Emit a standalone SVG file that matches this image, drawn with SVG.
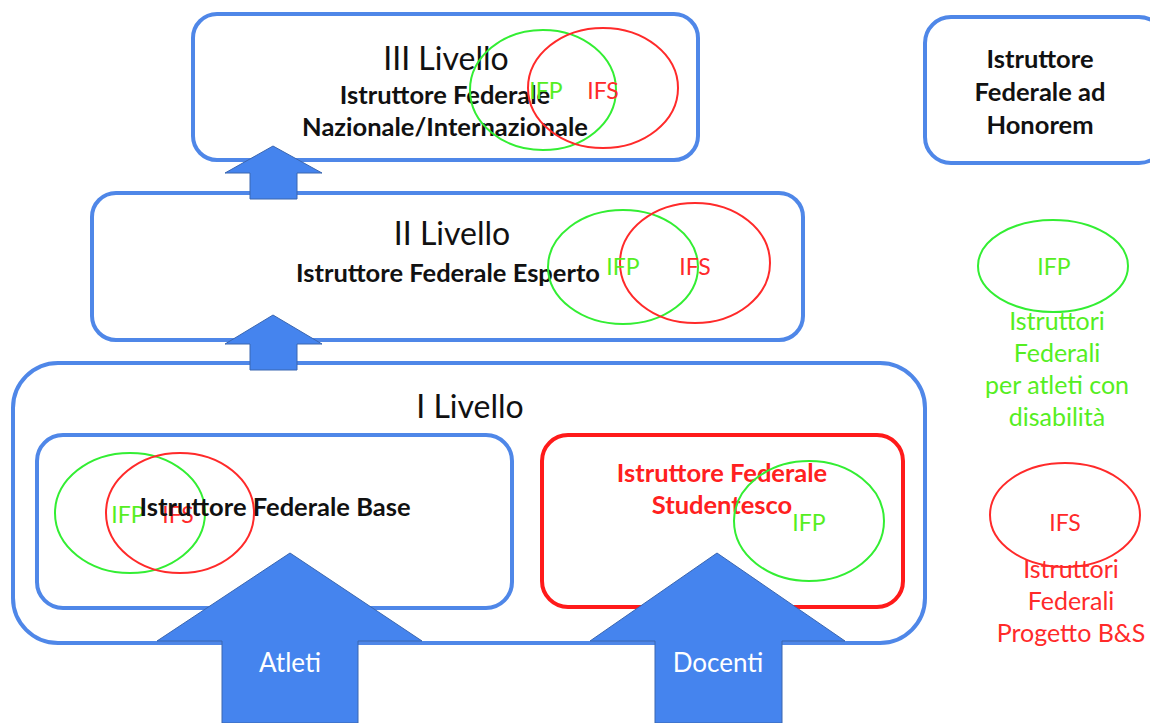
<svg xmlns="http://www.w3.org/2000/svg" width="1150" height="723" viewBox="0 0 1150 723">
<style>
.box{fill:#fff;stroke:#4f87e8;stroke-width:4}
.rbox{fill:#fff;stroke:#ff1a1a;stroke-width:4}
.eg{fill:none;stroke:#33ee33;stroke-width:2}
.er{fill:none;stroke:#ff2a2a;stroke-width:2}
.arr{fill:#4584ee;stroke:#3a66b0;stroke-width:1}
text{font-family:Lato,"Open Sans",sans-serif;text-anchor:middle}
.lv{font-size:32px;fill:#111}
.b{font-size:25.5px;font-weight:bold;fill:#111}
.rb{font-size:25.5px;font-weight:bold;fill:#ff2020}
.g{font-size:23px;fill:#55ee22}
.r{font-size:23px;fill:#ff2a2a}
.gl{font-size:25px;fill:#55ee22}
.rl{font-size:25px;fill:#ff2a2a}
.w{font-size:26px;fill:#fff}
</style>
<g id="livello3">
<rect class="box" x="193" y="14" width="505" height="146" rx="24"/>
<text class="lv" x="446" y="70">III Livello</text>
<text class="b" x="445" y="104">Istruttore Federale</text>
<text class="b" x="445" y="136">Nazionale/Internazionale</text>
<ellipse class="eg" cx="543" cy="90" rx="73" ry="60"/>
<ellipse class="er" cx="603" cy="88" rx="75" ry="60"/>
<text class="g" x="546" y="99">IFP</text>
<text class="r" x="603" y="99">IFS</text>
</g>
<g id="livello2">
<rect class="box" x="92" y="193" width="711" height="147" rx="24"/>
<text class="lv" x="452" y="245">II Livello</text>
<text class="b" x="448" y="282">Istruttore Federale Esperto</text>
<ellipse class="eg" cx="623" cy="267" rx="75" ry="57"/>
<ellipse class="er" cx="695" cy="263" rx="75" ry="60"/>
<text class="g" x="623" y="275">IFP</text>
<text class="r" x="695" y="275">IFS</text>
</g>
<g id="livello1">
<rect class="box" x="13" y="363" width="912" height="280" rx="45"/>
<text class="lv" x="470" y="418">I Livello</text>
</g>
<g id="base">
<rect class="box" x="37" y="435" width="475" height="173" rx="26"/>
<ellipse class="eg" cx="130" cy="513" rx="75" ry="60"/>
<ellipse class="er" cx="180" cy="513" rx="74" ry="60"/>
<text class="g" x="128" y="523">IFP</text>
<text class="r" x="178" y="523">IFS</text>
<text class="b" x="275" y="516">Istruttore Federale Base</text>
</g>
<g id="studentesco">
<rect class="rbox" x="542" y="435" width="361" height="172" rx="26"/>
<text class="rb" x="722" y="482">Istruttore Federale</text>
<text class="rb" x="722" y="514">Studentesco</text>
<ellipse class="eg" cx="809" cy="521" rx="75" ry="60"/>
<text class="g" x="809" y="531">IFP</text>
</g>
<g id="honorem">
<rect class="box" x="925" y="17" width="240" height="146" rx="26"/>
<text class="b" x="1040" y="68">Istruttore</text>
<text class="b" x="1040" y="101">Federale ad</text>
<text class="b" x="1040" y="134">Honorem</text>
</g>
<g id="legend-ifp">
<ellipse class="eg" cx="1053" cy="266" rx="75" ry="46"/>
<text class="g" x="1054" y="275">IFP</text>
<text class="gl" x="1057" y="330">Istruttori</text>
<text class="gl" x="1057" y="362">Federali</text>
<text class="gl" x="1057" y="394">per atleti con</text>
<text class="gl" x="1057" y="426">disabilità</text>
</g>
<g id="legend-ifs">
<ellipse class="er" cx="1065" cy="515" rx="75" ry="52"/>
<text class="r" x="1065" y="531">IFS</text>
<text class="rl" x="1071" y="578">Istruttori</text>
<text class="rl" x="1071" y="610">Federali</text>
<text class="rl" x="1071" y="642">Progetto B&amp;S</text>
</g>
<g id="connectors">
<polygon class="arr" points="273,146 322,173 297,173 297,199 250,199 250,173 225,173"/>
<polygon class="arr" points="273,315 322,344 297,344 297,370 250,370 250,344 225,344"/>
<polygon class="arr" points="290,553 422,641 358,641 358,723 222,723 222,641 157,641"/>
<polygon class="arr" points="717,553 845,641 782,641 782,723 655,723 655,641 590,641"/>
<text class="w" x="290" y="672">Atleti</text>
<text class="w" x="718" y="672">Docenti</text>
</g>
</svg>
